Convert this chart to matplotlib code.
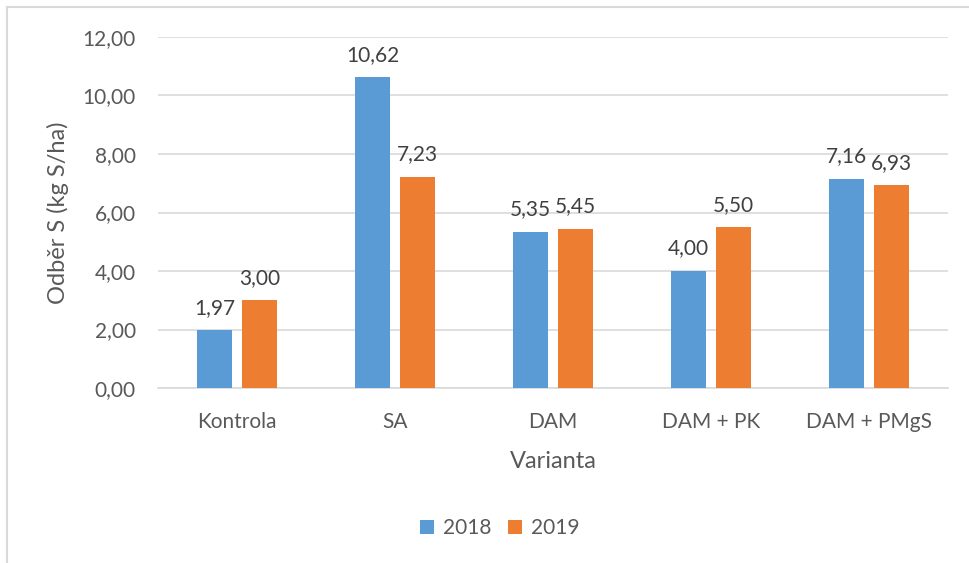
import numpy as np
import matplotlib.pyplot as plt
from matplotlib.lines import Line2D

plt.rcParams['font.family'] = ['Lato', 'DejaVu Sans']

varianty = ["Kontrola", "SA", "DAM", "DAM + PK", "DAM + PMgS"]
odber_2018 = [1.97, 10.62, 5.35, 4.00, 7.16]
odber_2019 = [3.00, 7.23, 5.45, 5.50, 6.93]
roky = ["2018", "2019"]

blue = "#5B9BD5"
orange = "#ED7D31"
txt = "#595959"

fig = plt.figure(figsize=(9.7, 5.63), dpi=100)
ax = fig.add_axes([0.1629, 0.3108, 0.8144, 0.6235])

x = np.arange(len(varianty))
w = 0.2215
off = 0.1424
b1 = ax.bar(x - off, odber_2018, w, color=blue, label=roky[0], zorder=3)
b2 = ax.bar(x + off, odber_2019, w, color=orange, label=roky[1], zorder=3)

for bars, vals in ((b1, odber_2018), (b2, odber_2019)):
    for r, v in zip(bars, vals):
        ax.annotate(f"{v:.2f}".replace(".", ","),
                    (r.get_x() + r.get_width() / 2, v),
                    xytext=(0, 9), textcoords="offset points",
                    ha="center", va="bottom", fontsize=15, color="#404040")

ax.set_xlim(-0.5, len(varianty) - 0.5)
ax.set_ylim(0, 12)
ax.set_yticks(np.arange(0, 13, 2))
ax.set_yticklabels([f"{t:.2f}".replace(".", ",") for t in np.arange(0, 13, 2)])
ax.set_xticks(x)
ax.set_xticklabels(varianty)
ax.tick_params(axis="both", length=0, labelsize=15, colors=txt)
ax.tick_params(axis="y", pad=16)
ax.tick_params(axis="x", pad=17)
ax.grid(axis="y", color="#D9D9D9", linewidth=1.2, zorder=0)
for s in ["top", "right", "left"]:
    ax.spines[s].set_visible(False)
ax.spines["bottom"].set_color("#D9D9D9")
ax.spines["bottom"].set_linewidth(1.2)

ax.set_ylabel("Odběr S (kg S/ha)", fontsize=17, color=txt, labelpad=10)
ax.set_xlabel("Varianta", fontsize=17, color=txt, labelpad=14)

fig.legend(handles=[b1, b2], labels=roky, loc="center", bbox_to_anchor=(0.515, 0.062),
           ncol=2, frameon=False, fontsize=15, handlelength=0.7, handleheight=0.7,
           handletextpad=0.4, columnspacing=0.8, labelcolor=txt)

# chart border (left and top, as in the reference)
fig.add_artist(Line2D([0.0068, 0.0068], [0, 0.9876], transform=fig.transFigure,
                      color="#D9D9D9", linewidth=1.5))
fig.add_artist(Line2D([0.0068, 1.0], [0.9876, 0.9876], transform=fig.transFigure,
                      color="#D9D9D9", linewidth=1.5))

fig.savefig("out.png", dpi=100)
